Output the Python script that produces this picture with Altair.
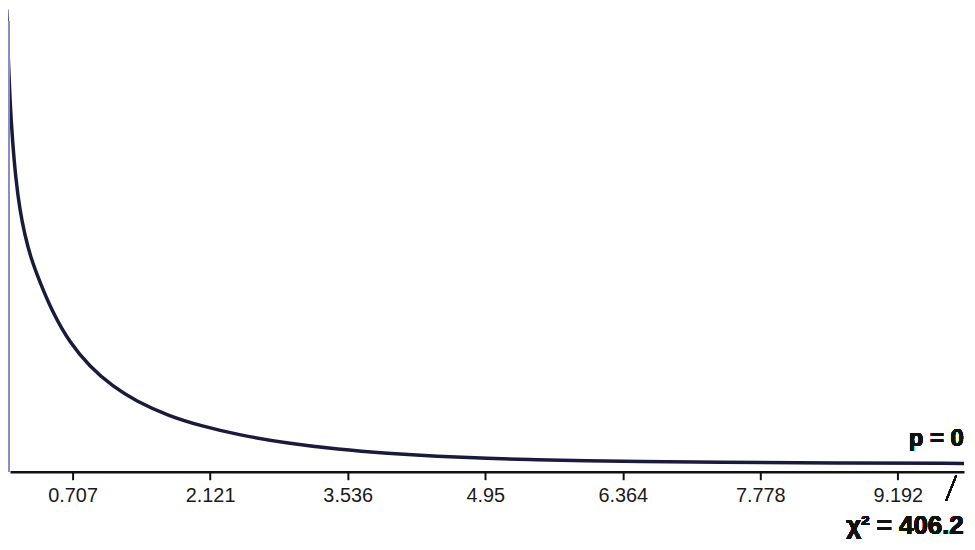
import altair as alt
import pandas as pd

# Curve (x in axis units, y in relative density units)
curve_x = [0.0296, 0.0429, 0.0634, 0.0889, 0.1247, 0.1655, 0.2166, 0.2779, 0.3699,
           0.5028, 0.6765, 0.8809, 1.1159, 1.3612, 1.6984, 2.0356, 2.4137, 2.9246,
           3.4355, 3.9465, 4.4574, 4.9683, 5.4792, 5.9902, 6.5011, 7.3185, 8.5448,
           9.8730]
curve_y = [1.1284, 1.0247, 0.9012, 0.8025, 0.7037, 0.6296, 0.5679, 0.5111, 0.4519,
           0.3753, 0.3012, 0.2420, 0.1926, 0.1556, 0.1185, 0.0938, 0.0716, 0.0506,
           0.0358, 0.0259, 0.0185, 0.0133, 0.0099, 0.0074, 0.0057, 0.0037, 0.0020,
           0.0010]

tick_values = [0.707, 2.121, 3.536, 4.95, 6.364, 7.778, 9.192]

p_label = "p = 0"
chi_label = "χ² = 406.2"

X_DOMAIN = [0.0634, 9.873]
Y_DOMAIN = [-0.01975, 1.1284]

df = pd.DataFrame({"x": curve_x, "y": curve_y})

xscale = alt.Scale(domain=X_DOMAIN, nice=False, zero=False)
yscale = alt.Scale(domain=Y_DOMAIN, nice=False, zero=False)

xaxis = alt.Axis(
    values=tick_values, format=".4~g", title=None, grid=False,
    domainColor="#111111", domainWidth=2.5, tickColor="#111111", tickWidth=2,
    tickSize=8, labelFontSize=20, labelFont="Liberation Sans",
    labelColor="#1a1a1a", labelPadding=6,
)

curve = alt.Chart(df).mark_line(
    color="#1a1a3c", strokeWidth=3.5, interpolate="basis"
).encode(
    x=alt.X("x:Q", scale=xscale, axis=xaxis),
    y=alt.Y("y:Q", scale=yscale, axis=None),
)

left_line = alt.Chart(df).mark_rule(color="#8c8cc8", strokeWidth=1.5).encode(
    x=alt.datum(0.0506), y=alt.datum(1.10), y2=alt.datum(-0.01975)
)

slash = alt.Chart(df).mark_rule(color="#111111", strokeWidth=1.5).encode(
    x=alt.datum(9.792), y=alt.datum(-0.0296),
    x2=alt.datum(9.689), y2=alt.datum(-0.0914)
)

p_text = alt.Chart(df).mark_text(
    align="right", baseline="alphabetic", fontSize=24, fontWeight="bold",
    font="Liberation Sans", color="#111111"
).encode(x=alt.datum(9.87), y=alt.datum(0.0444), text=alt.value(p_label))

chi_text = alt.Chart(df).mark_text(
    align="right", baseline="alphabetic", fontSize=26, fontWeight="bold",
    font="Liberation Sans", color="#111111"
).encode(x=alt.datum(9.87), y=alt.datum(-0.1753), text=alt.value(chi_label))

chart = alt.layer(curve, left_line, slash, p_text, chi_text).properties(
    width=960, height=465,
    autosize=alt.AutoSizeParams(type="none"),
    padding={"left": 2, "top": 0, "right": 3, "bottom": 68},
).configure_view(stroke=None)

chart.save("out.html", embed_options={"renderer": "svg", "actions": False})
